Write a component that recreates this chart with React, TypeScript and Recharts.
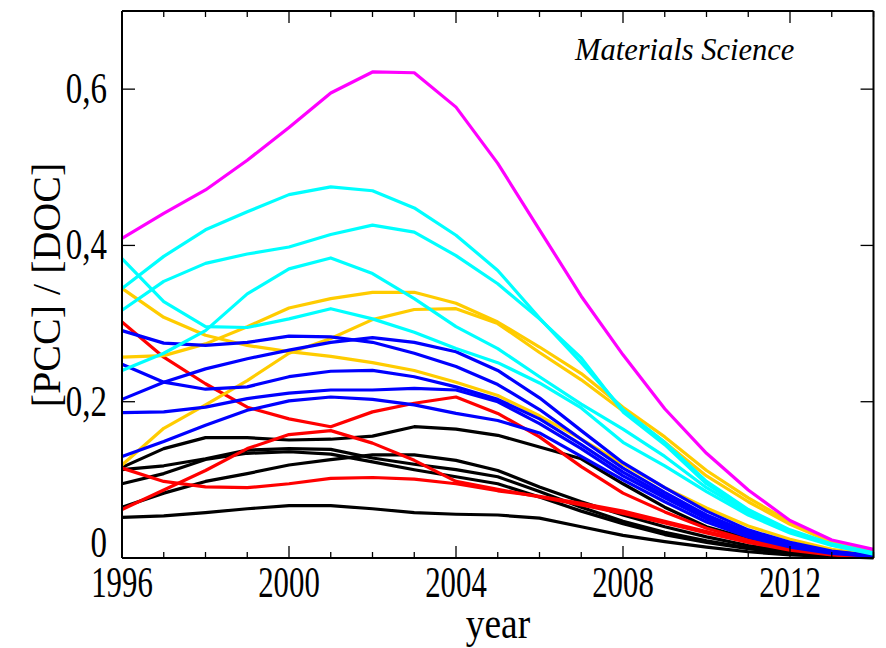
import React from 'react';
import { LineChart, Line, XAxis, YAxis, ReferenceLine, Customized } from 'recharts';

const SERIF = "Liberation Serif, DejaVu Serif, serif";

const years = [1996, 1997, 1998, 1999, 2000, 2001, 2002, 2003, 2004, 2005, 2006, 2007, 2008, 2009, 2010, 2011, 2012, 2013, 2014];
const yTicks = [0, 0.2, 0.4, 0.6];
const xLabelYears = [1996, 2000, 2004, 2008, 2012];

const magenta1 = [0.409, 0.441, 0.471, 0.509, 0.551, 0.595, 0.622, 0.621, 0.577, 0.505, 0.42, 0.335, 0.26, 0.191, 0.134, 0.087, 0.048, 0.023, 0.011];

const cyan1 = [0.345, 0.386, 0.42, 0.443, 0.465, 0.475, 0.47, 0.448, 0.413, 0.368, 0.307, 0.25, 0.19, 0.148, 0.098, 0.062, 0.036, 0.018, 0.007];
const cyan2 = [0.317, 0.354, 0.377, 0.389, 0.398, 0.414, 0.426, 0.417, 0.387, 0.351, 0.306, 0.256, 0.187, 0.145, 0.095, 0.06, 0.034, 0.017, 0.006];
const cyan3 = [0.24, 0.262, 0.291, 0.338, 0.37, 0.384, 0.364, 0.332, 0.296, 0.268, 0.232, 0.197, 0.165, 0.13, 0.09, 0.058, 0.034, 0.017, 0.006];
const cyan4 = [0.383, 0.328, 0.296, 0.295, 0.306, 0.319, 0.306, 0.289, 0.268, 0.25, 0.224, 0.192, 0.148, 0.118, 0.085, 0.055, 0.032, 0.016, 0.005];

const yellow1 = [0.345, 0.308, 0.285, 0.272, 0.264, 0.258, 0.25, 0.24, 0.225, 0.208, 0.182, 0.152, 0.12, 0.09, 0.064, 0.041, 0.024, 0.011, 0.004];
const yellow2 = [0.257, 0.259, 0.274, 0.296, 0.32, 0.332, 0.34, 0.34, 0.326, 0.302, 0.27, 0.236, 0.193, 0.155, 0.112, 0.077, 0.046, 0.021, 0.01];
const yellow3 = [0.119, 0.166, 0.196, 0.227, 0.262, 0.281, 0.305, 0.318, 0.319, 0.3, 0.263, 0.228, 0.188, 0.148, 0.105, 0.072, 0.043, 0.02, 0.009];

const blue1 = [0.291, 0.275, 0.272, 0.276, 0.284, 0.283, 0.276, 0.262, 0.245, 0.222, 0.19, 0.152, 0.115, 0.084, 0.055, 0.033, 0.018, 0.008, 0.003];
const blue2 = [0.248, 0.225, 0.216, 0.219, 0.232, 0.239, 0.24, 0.232, 0.219, 0.203, 0.178, 0.145, 0.11, 0.08, 0.052, 0.031, 0.017, 0.008, 0.002];
const blue3 = [0.203, 0.225, 0.242, 0.255, 0.266, 0.276, 0.282, 0.276, 0.264, 0.24, 0.205, 0.163, 0.122, 0.09, 0.06, 0.036, 0.02, 0.009, 0.003];
const blue4 = [0.186, 0.187, 0.193, 0.204, 0.211, 0.215, 0.215, 0.217, 0.215, 0.2, 0.172, 0.14, 0.105, 0.077, 0.05, 0.029, 0.015, 0.007, 0.002];
const blue5 = [0.13, 0.149, 0.17, 0.189, 0.201, 0.206, 0.203, 0.196, 0.185, 0.176, 0.16, 0.13, 0.1, 0.072, 0.046, 0.027, 0.014, 0.006, 0.002];

const red1 = [0.302, 0.257, 0.223, 0.193, 0.178, 0.168, 0.187, 0.198, 0.206, 0.185, 0.155, 0.117, 0.083, 0.059, 0.038, 0.023, 0.012, 0.005, 0.001];
const red2 = [0.062, 0.087, 0.112, 0.14, 0.158, 0.163, 0.147, 0.125, 0.098, 0.088, 0.078, 0.068, 0.057, 0.045, 0.032, 0.02, 0.01, 0.004, 0.001];
const red3 = [0.115, 0.098, 0.091, 0.09, 0.095, 0.102, 0.103, 0.101, 0.095, 0.086, 0.079, 0.07, 0.06, 0.047, 0.034, 0.021, 0.011, 0.005, 0.001];

const black1 = [0.116, 0.14, 0.154, 0.154, 0.151, 0.152, 0.156, 0.168, 0.165, 0.157, 0.142, 0.127, 0.095, 0.065, 0.04, 0.025, 0.013, 0.006, 0.001];
const black2 = [0.113, 0.118, 0.127, 0.138, 0.14, 0.139, 0.128, 0.12, 0.113, 0.104, 0.085, 0.065, 0.047, 0.033, 0.022, 0.013, 0.007, 0.003, 0.001];
const black3 = [0.095, 0.108, 0.126, 0.134, 0.136, 0.133, 0.123, 0.113, 0.104, 0.095, 0.078, 0.06, 0.044, 0.03, 0.02, 0.012, 0.006, 0.003, 0.001];
const black4 = [0.065, 0.083, 0.098, 0.108, 0.119, 0.126, 0.132, 0.132, 0.125, 0.112, 0.091, 0.072, 0.055, 0.04, 0.027, 0.016, 0.008, 0.003, 0.001];
const black5 = [0.052, 0.054, 0.058, 0.063, 0.067, 0.067, 0.063, 0.058, 0.056, 0.055, 0.051, 0.04, 0.029, 0.021, 0.014, 0.008, 0.004, 0.002, 0.0];

const MAGENTA = '#ff00ff';
const CYAN = '#00ffff';
const YELLOW = '#ffcc00';
const BLUE = '#0000ff';
const RED = '#ff0000';
const BLACK = '#000000';

const series = [
  { key: 'black1', color: BLACK, values: black1 },
  { key: 'black2', color: BLACK, values: black2 },
  { key: 'black3', color: BLACK, values: black3 },
  { key: 'black4', color: BLACK, values: black4 },
  { key: 'black5', color: BLACK, values: black5 },
  { key: 'red1', color: RED, values: red1 },
  { key: 'red2', color: RED, values: red2 },
  { key: 'red3', color: RED, values: red3 },
  { key: 'yellow1', color: YELLOW, values: yellow1 },
  { key: 'yellow2', color: YELLOW, values: yellow2 },
  { key: 'yellow3', color: YELLOW, values: yellow3 },
  { key: 'blue1', color: BLUE, values: blue1 },
  { key: 'blue2', color: BLUE, values: blue2 },
  { key: 'blue3', color: BLUE, values: blue3 },
  { key: 'blue4', color: BLUE, values: blue4 },
  { key: 'blue5', color: BLUE, values: blue5 },
  { key: 'cyan1', color: CYAN, values: cyan1 },
  { key: 'cyan2', color: CYAN, values: cyan2 },
  { key: 'cyan3', color: CYAN, values: cyan3 },
  { key: 'cyan4', color: CYAN, values: cyan4 },
  { key: 'magenta1', color: MAGENTA, values: magenta1 },
];

const data = years.map((year, i) => {
  const row: Record<string, number> = { year };
  series.forEach((s) => {
    row[s.key] = s.values[i];
  });
  return row;
});

const X_MIN = 1996;
const X_MAX = 2014;
const Y_MAX = 0.7;
// tick lengths expressed in data units (about 12px / 6px vertical, 13px horizontal)
const TOP_MAJOR = 0.0154;
const TOP_MINOR = 0.0077;
const RIGHT_LEN = 0.31;

const fmtY = (v: number) => (v === 0 ? '0' : v.toFixed(1).replace('.', ','));

const BottomTick = (props: any) => {
  const { x, y, payload } = props;
  const v = payload.value;
  const major = xLabelYears.includes(v);
  return (
    <g>
      <line x1={x} x2={x} y1={y} y2={y - (major ? 12 : 6)} stroke="#000" strokeWidth={1.3} />
      {major && (
        <text
          transform={`translate(${x},${y + 39}) scale(0.7,1)`}
          textAnchor="middle"
          fontSize={44}
          fontFamily={SERIF}
          fill="#000"
        >
          {v}
        </text>
      )}
    </g>
  );
};

const LeftTick = (props: any) => {
  const { x, y, payload } = props;
  const v = payload.value;
  const dy = v === 0 ? -15 : 0;
  return (
    <g>
      <line x1={x} x2={x + 13} y1={y} y2={y} stroke="#000" strokeWidth={1.3} />
      <text
        transform={`translate(${x - 15},${y + 14 + dy}) scale(0.75,1)`}
        textAnchor="end"
        fontSize={44}
        fontFamily={SERIF}
        fill="#000"
      >
        {fmtY(v)}
      </text>
    </g>
  );
};

const XLabel = () => (
  <text
    transform="translate(498,638) scale(0.85,1)"
    textAnchor="middle"
    fontSize={44}
    fontFamily={SERIF}
    fill="#000"
  >
    year
  </text>
);

const YLabel = () => (
  <text
    transform="translate(60,285) rotate(-90)"
    textAnchor="middle"
    fontSize={40}
    fontFamily={SERIF}
    fill="#000"
  >
    [PCC] / [DOC]
  </text>
);

const Title = () => (
  <text x={575} y={60} fontSize={30.5} fontStyle="italic" fontFamily={SERIF} fill="#000">
    Materials Science
  </text>
);

export default function App() {
  return (
    <div style={{ position: 'absolute', left: 0, top: 0, width: 886, height: 648, background: '#fff', fontFamily: SERIF }}>
      <LineChart width={886} height={648} data={data} margin={{ top: 10, right: 11.5, bottom: 0, left: 0 }}>
        <XAxis
          xAxisId="bottom"
          dataKey="year"
          type="number"
          domain={[X_MIN, X_MAX]}
          ticks={years}
          interval={0}
          orientation="bottom"
          height={90}
          tickSize={0}
          tickMargin={0}
          tickLine={false}
          tick={BottomTick}
          axisLine={{ stroke: '#000', strokeWidth: 2 }}
          label={XLabel}
        />
        <XAxis
          xAxisId="top"
          dataKey="year"
          type="number"
          domain={[X_MIN, X_MAX]}
          orientation="top"
          height={1}
          tick={false}
          tickLine={false}
          axisLine={{ stroke: '#000', strokeWidth: 2 }}
        />
        <YAxis
          yAxisId="left"
          type="number"
          domain={[0, Y_MAX]}
          ticks={yTicks}
          interval={0}
          orientation="left"
          width={122}
          tickSize={0}
          tickMargin={0}
          tickLine={false}
          tick={LeftTick}
          axisLine={{ stroke: '#000', strokeWidth: 2 }}
          label={YLabel}
        />
        <YAxis
          yAxisId="right"
          type="number"
          domain={[0, Y_MAX]}
          orientation="right"
          width={1}
          tick={false}
          tickLine={false}
          axisLine={{ stroke: '#000', strokeWidth: 2 }}
        />
        {years.map((yr) => (
          <ReferenceLine
            key={`tt-${yr}`}
            xAxisId="bottom"
            yAxisId="left"
            segment={[
              { x: yr, y: Y_MAX },
              { x: yr, y: Y_MAX - (xLabelYears.includes(yr) ? TOP_MAJOR : TOP_MINOR) },
            ]}
            stroke="#000"
            strokeWidth={1.3}
            ifOverflow="visible"
          />
        ))}
        {yTicks.map((v) => (
          <ReferenceLine
            key={`rt-${v}`}
            xAxisId="bottom"
            yAxisId="left"
            segment={[
              { x: X_MAX, y: v },
              { x: X_MAX - RIGHT_LEN, y: v },
            ]}
            stroke="#000"
            strokeWidth={1.3}
            ifOverflow="visible"
          />
        ))}
        {series.map((s) => (
          <Line
            key={s.key}
            xAxisId="bottom"
            yAxisId="left"
            dataKey={s.key}
            type="linear"
            stroke={s.color}
            strokeWidth={3.2}
            strokeLinejoin="round"
            dot={false}
            activeDot={false}
            isAnimationActive={false}
          />
        ))}
        <Customized component={Title} />
      </LineChart>
    </div>
  );
}
